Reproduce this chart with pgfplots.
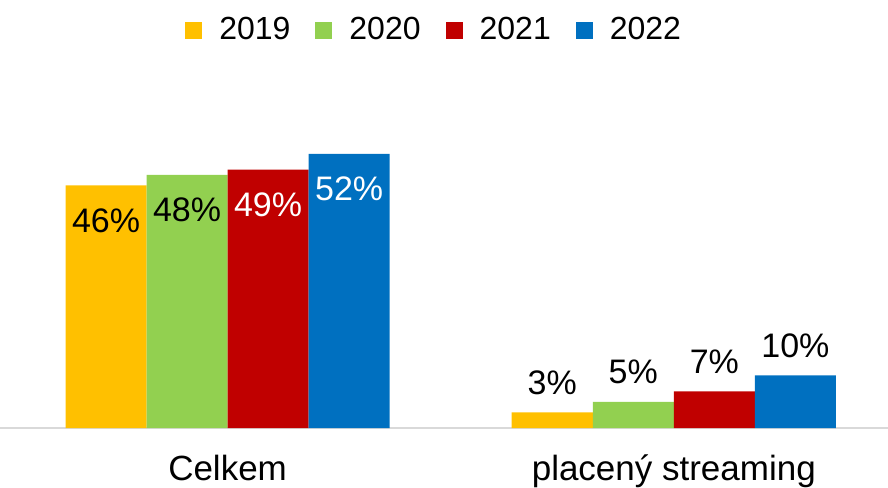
\documentclass[border=0pt]{standalone}
\usepackage{fontspec}
\setmainfont{Liberation Sans}
\usepackage{pgfplots}
\usepackage{pgfplotstable}
\pgfplotsset{compat=1.18}
\definecolor{c19}{HTML}{FFC000}
\definecolor{c20}{HTML}{92D050}
\definecolor{c21}{HTML}{C00000}
\definecolor{c22}{HTML}{0070C0}
\pgfplotstableread{
x y lab
0 46 46
1 3 3
}\tA
\pgfplotstableread{
x y lab
0 48 48
1 5 5
}\tB
\pgfplotstableread{
x y lab
0 49 49
1 7 7
}\tC
\pgfplotstableread{
x y lab
0 52 52
1 10 10
}\tD
\begin{document}
\begin{tikzpicture}
\begin{axis}[
  at={(0,0)}, anchor=south west,
  scale only axis,
  width=444pt, height=157pt,
  xmin=-0.51, xmax=1.48, ymin=0, ymax=59.5,
  enlargelimits=false,
  axis x line=bottom, axis y line=none,
  x axis line style={draw=black!15, line width=1pt, -},
  ybar=0pt, bar width=0.1816,
  xtick={0,1}, xticklabels={Celkem, placený streaming},
  major tick length=0pt,
  xticklabel style={anchor=base, yshift=-26pt, font=\fontsize{17.5}{20}\selectfont},
  ytick=\empty,
  point meta=explicit symbolic,
  nodes near coords={\pgfplotspointmeta\%},
  every node near coord/.append style={anchor=base, yshift=9pt, inner sep=0pt, font=\fontsize{17}{20}\selectfont},
  coordinate style/.condition={x<0.5}{yshift=-32.5pt},
  legend style={draw=none, at={(0.49,1.2675)}, anchor=center, legend columns=-1,
    font=\fontsize{16}{19}\selectfont,
    /tikz/every odd column/.append style={column sep=6.5pt},
    /tikz/every even column/.append style={column sep=10.5pt}},
  legend image code/.code={\fill[#1] (0pt,-4.25pt) rectangle (8.5pt,4.25pt);},
]
\addplot[fill=c19, draw=none] table[x=x, y=y, meta=lab] {\tA};
\addplot[fill=c20, draw=none] table[x=x, y=y, meta=lab] {\tB};
\addplot[fill=c21, draw=none, coordinate style/.condition={x<0.5}{text=white}] table[x=x, y=y, meta=lab] {\tC};
\addplot[fill=c22, draw=none, coordinate style/.condition={x<0.5}{text=white}] table[x=x, y=y, meta=lab] {\tD};
\legend{2019, 2020, 2021, 2022}
\end{axis}
\pgfresetboundingbox
\useasboundingbox (0,-29.5pt) rectangle (444pt,214.1pt);
\end{tikzpicture}
\end{document}
